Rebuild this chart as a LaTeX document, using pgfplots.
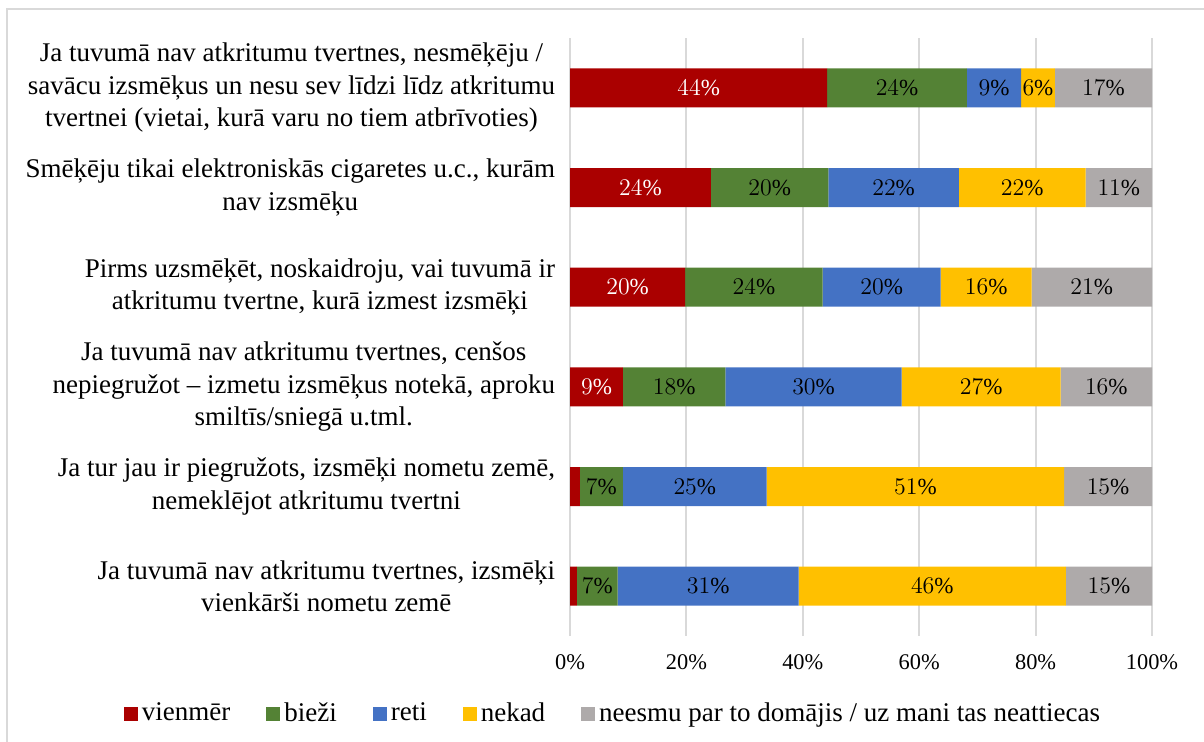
\documentclass[border=0pt]{standalone}
\usepackage{fontspec}
\setmainfont{Liberation Serif}
\usepackage{pgfplots}
\usepackage{pgfplotstable}
\pgfplotsset{compat=1.18}

\definecolor{cRed}{HTML}{AA0000}
\definecolor{cGreen}{HTML}{548235}
\definecolor{cBlue}{HTML}{4472C4}
\definecolor{cYellow}{HTML}{FFC000}
\definecolor{cGrey}{HTML}{AEAAAA}
\definecolor{cGrid}{HTML}{D9D9D9}

% shares per statement, % (rows top to bottom)
\pgfplotstableread{
c a    b    r    n    g
0 44.2 24.0 9.3  5.8  16.7
1 24.2 20.2 22.4 21.8 11.4
2 19.8 23.6 20.3 15.6 20.7
3 9.1  17.6 30.3 27.3 15.7
4 1.7  7.4  24.7 51.1 15.1
5 1.2  7.0  31.1 45.9 14.8
}\data

\begin{document}
\begin{tikzpicture}
\useasboundingbox (0,0) rectangle (602bp,371bp);
\draw[cGrid, line width=1bp] (3.5bp,0) -- (3.5bp,366.5bp) -- (602bp,366.5bp);
\begin{axis}[
    at={(285bp,53bp)}, anchor=south west,
    scale only axis, width=291bp, height=299bp,
    xbar stacked, bar width=19.5bp,
    xmin=0, xmax=100, ymin=-0.5, ymax=5.5,
    y dir=reverse,
    axis line style={draw=none},
    major tick length=0pt,
    xmajorgrids, grid style={cGrid, line width=1bp},
    xtick={0,20,40,60,80,100},
    xticklabels={0\%,20\%,40\%,60\%,80\%,100\%},
    xticklabel style={yshift=-6bp, font=\fontsize{11.2bp}{13bp}\selectfont},
    ytick={0,1,2,3,4,5},
    yticklabels={
      {Ja tuvumā nav atkritumu tvertnes, nesmēķēju /\\savācu izsmēķus un nesu sev līdzi līdz atkritumu\\tvertnei (vietai, kurā varu no tiem atbrīvoties)},
      {Smēķēju tikai elektroniskās cigaretes u.c., kurām\\nav izsmēķu},
      {Pirms uzsmēķēt, noskaidroju, vai tuvumā ir\\atkritumu tvertne, kurā izmest izsmēķi},
      {Ja tuvumā nav atkritumu tvertnes, cenšos\\nepiegružot – izmetu izsmēķus notekā, aproku\\smiltīs/sniegā u.tml.},
      {Ja tur jau ir piegružots, izsmēķi nometu zemē,\\nemeklējot atkritumu tvertni},
      {Ja tuvumā nav atkritumu tvertnes, izsmēķi\\vienkārši nometu zemē}},
    yticklabel style={align=center, xshift=-4bp, font=\fontsize{13.5bp}{16.25bp}\selectfont},
    legend columns=-1,
    legend style={at={(0.0756,-0.1296)}, anchor=center, draw=none,
      font=\fontsize{13.5bp}{15bp}\selectfont,
      /tikz/every even column/.append style={column sep=16bp}},
    legend image code/.code={\fill[#1] (0bp,-3.5bp) rectangle (7bp,3.5bp);},
    nodes near coords={\ifdim\rawv pt<3pt\else\pgfmathprintnumber[fixed,precision=0]{\rawv}\%\fi},
    every node near coord/.style={anchor=center, font=\fontsize{11.5bp}{14bp}\selectfont},
]
\addplot[fill=cRed, draw=none, visualization depends on={\thisrow{a} \as \rawv},
  every node near coord/.append style={text=white}] table[x=a, y=c] {\data};
\addplot[fill=cGreen, draw=none, visualization depends on={\thisrow{b} \as \rawv}] table[x=b, y=c] {\data};
\addplot[fill=cBlue, draw=none, visualization depends on={\thisrow{r} \as \rawv}] table[x=r, y=c] {\data};
\addplot[fill=cYellow, draw=none, visualization depends on={\thisrow{n} \as \rawv}] table[x=n, y=c] {\data};
\addplot[fill=cGrey, draw=none, visualization depends on={\thisrow{g} \as \rawv}] table[x=g, y=c] {\data};
\legend{vienmēr, bieži, reti, nekad, neesmu par to domājis / uz mani tas neattiecas}
\end{axis}
\end{tikzpicture}
\end{document}
